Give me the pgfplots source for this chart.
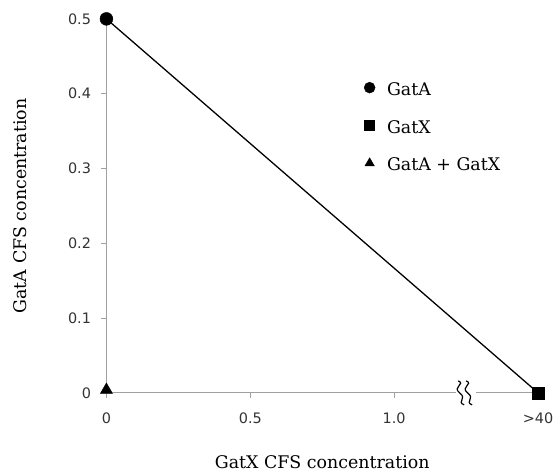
\documentclass[border=0pt]{standalone}
\usepackage{fontspec}
\setmainfont{DejaVu Serif}
\newfontfamily\ticksf{DejaVu Sans}
\usepackage{pgfplots}
\pgfplotsset{compat=1.18}
\definecolor{axgray}{HTML}{A0A0A0}
\definecolor{tickcol}{HTML}{333333}
\begin{document}
\begin{tikzpicture}
\begin{axis}[
  scale only axis,
  width=434pt, height=376pt,
  xmin=0, xmax=1.5, ymin=0, ymax=0.5,
  axis x line=bottom, axis y line=left,
  axis line style={axgray, line width=0.8pt, -},
  xtick={0,0.5,1,1.5}, xticklabels={0,0.5,1.0,>40},
  ytick={0,0.1,0.2,0.3,0.4,0.5}, yticklabels={0,0.1,0.2,0.3,0.4,0.5},
  tick style={axgray, line width=0.8pt},
  tick align=outside, major tick length=5pt,
  ticklabel style={font=\ticksf\fontsize{14.5}{17}\selectfont, text=tickcol},
  xticklabel style={yshift=-12pt},
  yticklabel style={xshift=-7pt},
  xlabel={GatX CFS concentration},
  ylabel={GatA CFS concentration},
  label style={font=\fontsize{17.5}{21}\selectfont},
  xlabel style={yshift=-25pt},
  ylabel style={yshift=35pt},
  clip=false,
  legend style={draw=none, fill=none, at={(axis cs:0.895,0.418)}, anchor=north west,
    font=\fontsize{17.5}{21}\selectfont, row sep=19.5pt, inner sep=0pt},
  legend cell align=left,
  legend image code/.code={\draw[#1] plot coordinates {(0.2cm,0.07cm)};},
]
\addplot[black, line width=1.3pt, forget plot] coordinates {(0,0.5) (1.5,0)};
\addplot[only marks, mark=*, mark size=6.5pt, black, forget plot] coordinates {(0,0.5)};
\addplot[only marks, mark=square*, mark size=6pt, black, forget plot] coordinates {(1.5,0)};
\addplot[only marks, mark=triangle*, mark size=7pt, black, forget plot] coordinates {(0,0.004)};
% legend entries (same series, legend-sized marks)
\addlegendimage{only marks, mark=*, mark size=5.5pt, black}
\addlegendentry{\hspace{10pt}GatA}
\addlegendimage{only marks, mark=square*, mark size=5pt, black}
\addlegendentry{\hspace{10pt}GatX}
\addlegendimage{only marks, mark=triangle*, mark size=5.5pt, black}
\addlegendentry{\hspace{10pt}GatA + GatX}
% axis break
\fill[white] (axis cs:1.25,0) ++(-10pt,-3pt) rectangle ++(20pt,6pt);
\draw[black, line width=1.2pt] (axis cs:1.25,0) ++(-8pt,12pt) .. controls ++(8pt,-3pt) and ++(-8pt,6pt) .. ++(1.5pt,-12pt) .. controls ++(8pt,-6pt) and ++(-8pt,3pt) .. ++(4.5pt,-12pt);
\draw[black, line width=1.2pt] (axis cs:1.25,0) ++(0pt,12pt) .. controls ++(8pt,-3pt) and ++(-8pt,6pt) .. ++(1.5pt,-12pt) .. controls ++(8pt,-6pt) and ++(-8pt,3pt) .. ++(4.5pt,-12pt);
\end{axis}
\pgfresetboundingbox
\path (current axis.south west) ++(-107pt,-81pt) coordinate (bl);
\path (current axis.north east) ++(15pt,19pt) coordinate (tr);
\path (bl) rectangle (tr);
\end{tikzpicture}
\end{document}
